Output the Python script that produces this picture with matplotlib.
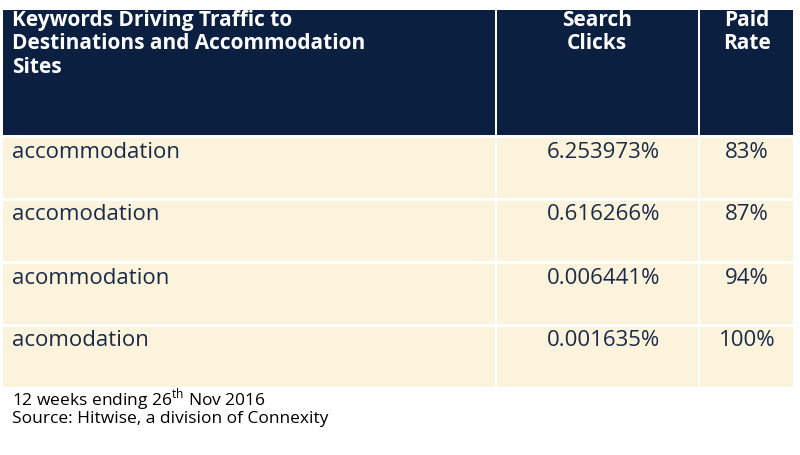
import matplotlib
matplotlib.use("Agg")
import matplotlib.pyplot as plt
from matplotlib.patches import Rectangle

plt.rcParams['font.family'] = 'Open Sans'
plt.rcParams['mathtext.fontset'] = 'custom'
plt.rcParams['mathtext.rm'] = 'Open Sans'

headers = ["Keywords Driving Traffic to\nDestinations and Accommodation\nSites", "Search\nClicks", "Paid\nRate"]
keywords = ["accommodation", "accomodation", "acommodation", "acomodation"]
clicks = ["6.253973%", "0.616266%", "0.006441%", "0.001635%"]
paid = ["83%", "87%", "94%", "100%"]
notes = [r"12 weeks ending 26$^{\mathrm{th}}$ Nov 2016", "Source: Hitwise, a division of Connexity"]

navy = "#0b1f40"
cream = "#fbf3dc"
txt = "#1a2a48"

fig = plt.figure(figsize=(8, 4.55), dpi=100)
ax = fig.add_axes([0, 0, 1, 1])
ax.set_xlim(0, 800); ax.set_ylim(455, 0); ax.axis('off')

cols = [(3, 495), (497, 698), (700, 793)]
for x0, x1 in cols:
    ax.add_patch(Rectangle((x0, 10), x1 - x0, 125, color=navy, lw=0))
hkw = dict(color='white', fontsize=15, fontweight='bold', va='top', linespacing=1.15)
ax.text(12, 10, headers[0], ha='left', **hkw)
ax.text(597, 10, headers[1], ha='center', **hkw)
ax.text(747, 10, headers[2], ha='center', **hkw)

y = 138
for k, c, p in zip(keywords, clicks, paid):
    h = 60
    for x0, x1 in cols:
        ax.add_patch(Rectangle((x0, y), x1 - x0, h, color=cream, lw=0))
    ax.text(12, y + 14, k, color=txt, fontsize=16, va='center', ha='left')
    ax.text(660, y + 14, c, color=txt, fontsize=16, va='center', ha='right')
    ax.text(747, y + 14, p, color=txt, fontsize=16, va='center', ha='center')
    y += 63

ax.text(12, 400, notes[0], color='black', fontsize=12.5, va='center', ha='left')
ax.text(12, 419, notes[1], color='black', fontsize=12.5, va='center', ha='left')

fig.savefig("out.png", dpi=100, facecolor='white')
